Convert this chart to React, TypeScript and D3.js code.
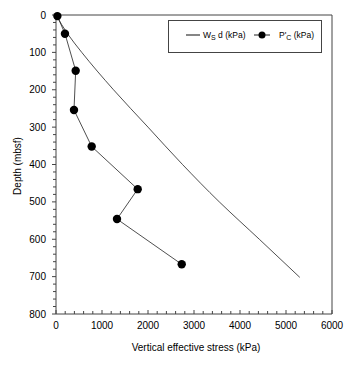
import React from "react";
import * as d3 from "d3";

const W = 362;
const H = 368;

// Overburden (Ws·d) curve: depth (mbsf) vs stress (kPa)
const wsDepth = [0, 50, 100, 200, 300, 400, 500, 600, 702];
const wsStress = [0, 250, 560, 1250, 2000, 2750, 3550, 4420, 5300];

// Preconsolidation stress P'c points
const pcDepth = [3, 50, 149, 254, 352, 466, 546, 667];
const pcStress = [30, 195, 428, 391, 776, 1776, 1326, 2733];

const xTicks = [0, 1000, 2000, 3000, 4000, 5000, 6000];
const yTicks = [0, 100, 200, 300, 400, 500, 600, 700, 800];

export default function App() {
  const x = d3.scaleLinear().domain([0, 6000]).range([56, 332]);
  const y = d3.scaleLinear().domain([0, 800]).range([15, 314]);

  const wsData = wsDepth.map((d, i) => ({ d, s: wsStress[i] }));
  const pcData = pcDepth.map((d, i) => ({ d, s: pcStress[i] }));

  const wsLine = d3
    .line<{ d: number; s: number }>()
    .x((p) => x(p.s))
    .y((p) => y(p.d))
    .curve(d3.curveMonotoneY)(wsData) as string;
  const pcLine = d3
    .line<{ d: number; s: number }>()
    .x((p) => x(p.s))
    .y((p) => y(p.d))(pcData) as string;

  const xMinor = d3.range(0, 6001, 200).filter((v) => v % 1000 !== 0);
  const yMinor = d3.range(0, 801, 20).filter((v) => v % 100 !== 0);

  const font = "Liberation Sans, Arial, sans-serif";
  const axisCol = "#444";

  return (
    <svg
      width={W}
      height={H}
      style={{ position: "absolute", left: 0, top: 0, background: "#fff" }}
      fontFamily={font}
    >
      <rect x={0} y={0} width={W} height={H} fill="#fff" />
      {/* frame */}
      <line x1={x(0)} x2={x(6000)} y1={y(0)} y2={y(0)} stroke={axisCol} strokeWidth={1} />
      <line x1={x(6000)} x2={x(6000)} y1={y(0)} y2={y(800)} stroke={axisCol} strokeWidth={1} />
      <line x1={x(0)} x2={x(6000)} y1={y(800)} y2={y(800)} stroke={axisCol} strokeWidth={1} />
      <line x1={x(0)} x2={x(0)} y1={y(0)} y2={y(800)} stroke={axisCol} strokeWidth={1} />

      {/* y ticks */}
      {yTicks.map((v) => (
        <g key={"y" + v}>
          <line x1={x(0) - 4} x2={x(0)} y1={y(v)} y2={y(v)} stroke={axisCol} />
          <text x={46} y={y(v) + 3.5} fontSize={10} textAnchor="end" fill="#000">
            {v}
          </text>
        </g>
      ))}
      {yMinor.map((v) => (
        <line key={"ym" + v} x1={x(0) - 3} x2={x(0)} y1={y(v)} y2={y(v)} stroke={axisCol} />
      ))}

      {/* x ticks */}
      {xTicks.map((v) => (
        <g key={"x" + v}>
          <line x1={x(v)} x2={x(v)} y1={y(800) - 4} y2={y(800)} stroke={axisCol} />
          <text x={x(v)} y={329} fontSize={10} textAnchor="middle" fill="#000">
            {v}
          </text>
        </g>
      ))}
      {xMinor.map((v) => (
        <line key={"xm" + v} x1={x(v)} x2={x(v)} y1={y(800) - 3} y2={y(800)} stroke={axisCol} />
      ))}

      {/* axis titles */}
      <text x={196} y={351} fontSize={10} textAnchor="middle" fill="#000">
        Vertical effective stress (kPa)
      </text>
      <text
        transform={`translate(21,166) rotate(-90)`}
        fontSize={10}
        textAnchor="middle"
        fill="#000"
      >
        Depth (mbsf)
      </text>

      {/* data */}
      <path d={wsLine} fill="none" stroke="#222" strokeWidth={0.8} />
      <path d={pcLine} fill="none" stroke="#222" strokeWidth={0.8} />
      {pcData.map((p, i) => (
        <circle key={i} cx={x(p.s)} cy={y(p.d)} r={4.2} fill="#000" />
      ))}

      {/* legend */}
      <rect x={168.5} y={20.5} width={153} height={32} fill="#fff" stroke={axisCol} strokeWidth={1} />
      <line x1={186} x2={200} y1={35} y2={35} stroke="#444" strokeWidth={1.3} />
      <text x={203} y={38} fontSize={8.5} fill="#000">
        W<tspan fontSize={7} dy={2}>S</tspan>
        <tspan dy={-2}> d (kPa)</tspan>
      </text>
      <line x1={254} x2={270} y1={35} y2={35} stroke="#222" strokeWidth={1} />
      <circle cx={262} cy={35} r={3.5} fill="#000" />
      <text x={279} y={38} fontSize={8.5} fill="#000">
        P'<tspan fontSize={7} dy={2}>C</tspan>
        <tspan dy={-2}> (kPa)</tspan>
      </text>
    </svg>
  );
}
